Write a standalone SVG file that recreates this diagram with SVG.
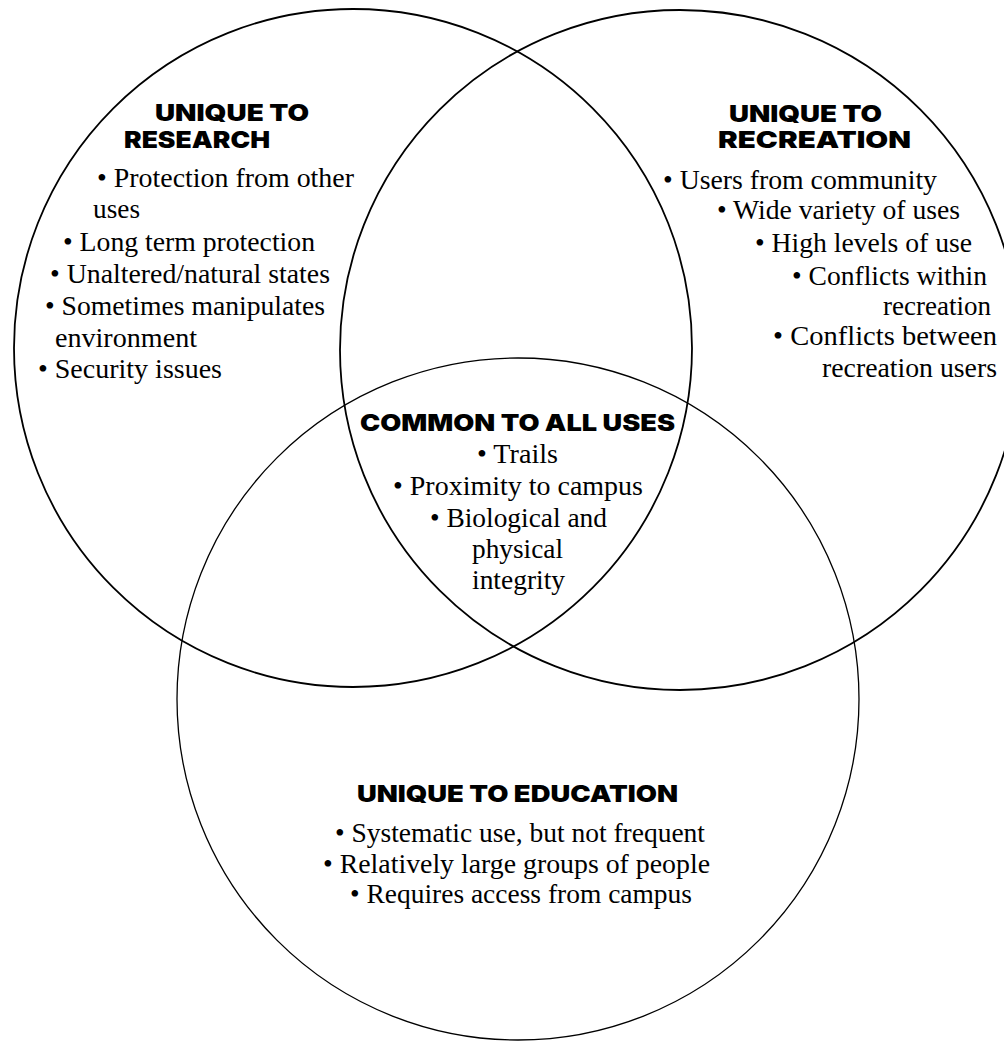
<svg xmlns="http://www.w3.org/2000/svg" width="1004" height="1042" viewBox="0 0 1004 1042">
<style>
.c{fill:none;stroke:#000}
.h{font-family:Inter,"Liberation Sans",sans-serif;font-weight:900;font-size:23px;fill:#000}
.t{font-family:"Liberation Serif","Times New Roman",serif;font-size:27px;fill:#000}
</style>
<rect width="1004" height="1042" fill="#fff"/>
<g id="research">
<circle class="c" cx="353" cy="348" r="339" stroke-width="1.8"/>
<text class="h" x="155" y="121" textLength="154" lengthAdjust="spacingAndGlyphs">UNIQUE TO</text>
<text class="h" x="124" y="148" textLength="146" lengthAdjust="spacingAndGlyphs">RESEARCH</text>
<text class="t" x="97" y="187" textLength="257" lengthAdjust="spacingAndGlyphs">• Protection from other</text>
<text class="t" x="93" y="218" textLength="47" lengthAdjust="spacingAndGlyphs">uses</text>
<text class="t" x="63" y="251" textLength="252" lengthAdjust="spacingAndGlyphs">• Long term protection</text>
<text class="t" x="50" y="283" textLength="280" lengthAdjust="spacingAndGlyphs">• Unaltered/natural states</text>
<text class="t" x="45" y="315" textLength="280" lengthAdjust="spacingAndGlyphs">• Sometimes manipulates</text>
<text class="t" x="55" y="347" textLength="142" lengthAdjust="spacingAndGlyphs">environment</text>
<text class="t" x="38" y="378" textLength="184" lengthAdjust="spacingAndGlyphs">• Security issues</text>
</g>
<g id="recreation">
<circle class="c" cx="680" cy="350" r="340" stroke-width="1.8"/>
<text class="h" x="729" y="122" textLength="153" lengthAdjust="spacingAndGlyphs">UNIQUE TO</text>
<text class="h" x="718" y="148" textLength="193" lengthAdjust="spacingAndGlyphs">RECREATION</text>
<text class="t" x="663" y="189" textLength="274" lengthAdjust="spacingAndGlyphs">• Users from community</text>
<text class="t" x="717" y="219" textLength="243" lengthAdjust="spacingAndGlyphs">• Wide variety of uses</text>
<text class="t" x="755" y="252" textLength="217" lengthAdjust="spacingAndGlyphs">• High levels of use</text>
<text class="t" x="792" y="285" textLength="195" lengthAdjust="spacingAndGlyphs">• Conflicts within</text>
<text class="t" x="883" y="315" textLength="108" lengthAdjust="spacingAndGlyphs">recreation</text>
<text class="t" x="773" y="345" textLength="224" lengthAdjust="spacingAndGlyphs">• Conflicts between</text>
<text class="t" x="822" y="377" textLength="175" lengthAdjust="spacingAndGlyphs">recreation users</text>
</g>
<g id="education">
<circle class="c" cx="518" cy="699" r="341" stroke-width="1.3"/>
<text class="h" x="357" y="802" textLength="321" lengthAdjust="spacingAndGlyphs">UNIQUE TO EDUCATION</text>
<text class="t" x="335" y="842" textLength="370" lengthAdjust="spacingAndGlyphs">• Systematic use, but not frequent</text>
<text class="t" x="323" y="873" textLength="387" lengthAdjust="spacingAndGlyphs">• Relatively large groups of people</text>
<text class="t" x="350" y="903" textLength="342" lengthAdjust="spacingAndGlyphs">• Requires access from campus</text>
</g>
<g id="common">
<text class="h" x="360" y="431" textLength="315" lengthAdjust="spacingAndGlyphs">COMMON TO ALL USES</text>
<text class="t" x="477" y="463" textLength="81" lengthAdjust="spacingAndGlyphs">• Trails</text>
<text class="t" x="393" y="495" textLength="250" lengthAdjust="spacingAndGlyphs">• Proximity to campus</text>
<text class="t" x="430" y="527" textLength="177" lengthAdjust="spacingAndGlyphs">• Biological and</text>
<text class="t" x="472" y="558" textLength="91" lengthAdjust="spacingAndGlyphs">physical</text>
<text class="t" x="472" y="589" textLength="93" lengthAdjust="spacingAndGlyphs">integrity</text>
</g>
<g id="connectors"/>
</svg>
